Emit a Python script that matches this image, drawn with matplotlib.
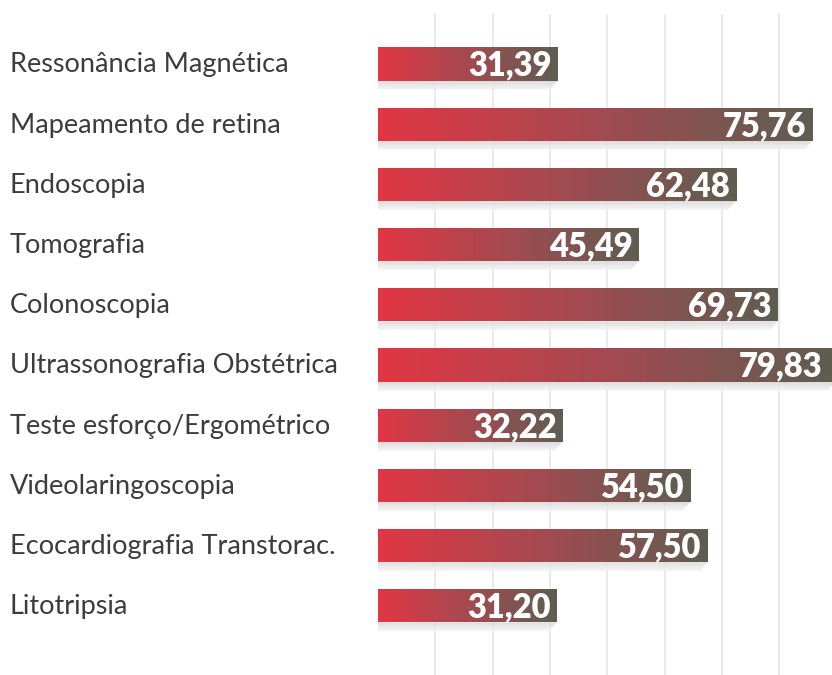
import numpy as np
import matplotlib
matplotlib.use("Agg")
import matplotlib.pyplot as plt
from matplotlib.colors import LinearSegmentedColormap
from matplotlib.patches import Polygon

categories = ["Ressonância Magnética", "Mapeamento de retina", "Endoscopia", "Tomografia",
              "Colonoscopia", "Ultrassonografia Obstétrica", "Teste esforço/Ergométrico",
              "Videolaringoscopia", "Ecocardiografia Transtorac.", "Litotripsia"]
values = [31.39, 75.76, 62.48, 45.49, 69.73, 79.83, 32.22, 54.50, 57.50, 31.20]
value_labels = ["31,39", "75,76", "62,48", "45,49", "69,73", "79,83", "32,22", "54,50", "57,50", "31,20"]
grid_ticks = [10, 20, 30, 40, 50, 60, 70]

W, H = 832, 675
fig = plt.figure(figsize=(W / 100, H / 100), dpi=100)
ax = fig.add_axes([378 / W, 0, (W - 378) / W, (H - 14) / H])
XMAX = 79.2
n = len(categories)
ax.set_xlim(0, XMAX)
ax.set_ylim(n - 1 + 1.15, -0.83)
for s in ax.spines.values():
    s.set_visible(False)
ax.set_xticks(grid_ticks)
ax.set_yticks([])
ax.tick_params(axis="x", length=0, labelbottom=False)
ax.grid(axis="x", color="#e4e4e4", linewidth=1.1, zorder=0)
ax.set_axisbelow(True)

px_x = (W - 378) / XMAX
px_y = (H - 14) / (n - 1 + 1.15 + 0.83)

bar_h = 0.55
cmap = LinearSegmentedColormap.from_list("g", ["#e23644", "#a44a50", "#5e5e51"])
grad = np.linspace(0, 1, 256).reshape(1, -1)
shadow_grad = np.linspace(0, 1, 64).reshape(-1, 1)
shadow_cmap = LinearSegmentedColormap.from_list("s", ["#d8d8d8", "#f4f4f4"])
blend = matplotlib.transforms.blended_transform_factory(fig.transFigure, ax.transData)

bars = ax.barh(range(n), values, height=bar_h, color="none", zorder=3)
for i, (b, v) in enumerate(zip(bars, values)):
    top = i - bar_h / 2
    bot = i + bar_h / 2
    sh = 9 / px_y
    dx = 8 / px_x
    poly = Polygon([(0, bot), (v, bot), (v - dx, bot + sh), (-dx, bot + sh)],
                   closed=True, facecolor="none", edgecolor="none", clip_on=False)
    ax.add_patch(poly)
    im = ax.imshow(shadow_grad, cmap=shadow_cmap, aspect="auto",
                   extent=(-dx, v, bot + sh, bot), zorder=2, alpha=0.85,
                   interpolation="bilinear")
    im.set_clip_path(poly)
    im2 = ax.imshow(grad, cmap=cmap, aspect="auto", extent=(0, v, bot, top),
                    zorder=3, interpolation="bilinear")
    im2.set_clip_path(b)
    pad = 6 if v <= XMAX else 10
    xe = min(v, XMAX) - pad / px_x
    ax.text(xe, i + 11.7 / px_y, value_labels[i], ha="right", va="baseline",
            color="white", fontsize=23.5, fontweight="heavy", family=["Lato", "DejaVu Sans"],
            zorder=5)
    ax.text(10 / W, i + 8.5 / px_y, categories[i], transform=blend,
            ha="left", va="baseline", color="#3c3c3c", fontsize=19.5, fontweight="normal",
            family=["Lato", "DejaVu Sans"], clip_on=False)

ax.set_xlim(0, XMAX)
ax.set_ylim(n - 1 + 1.15, -0.83)
fig.savefig("out.png", dpi=100)
